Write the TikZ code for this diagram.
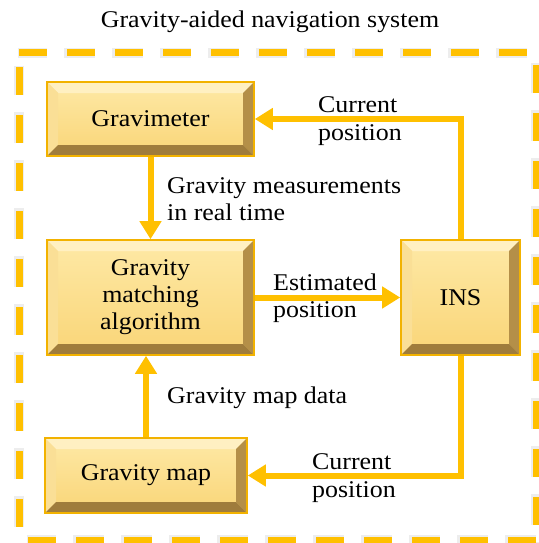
\documentclass[tikz,border=0pt]{standalone}
\usepackage{fontspec}
\setmainfont{Liberation Serif}[FakeStretch=1.08]
\usetikzlibrary{arrows.meta}
\definecolor{gold}{HTML}{FFC000}
\definecolor{boxborder}{HTML}{F2B200}
\definecolor{facetop}{HTML}{FEE9A6}
\definecolor{facebot}{HTML}{F9D577}
\definecolor{bevtop}{HTML}{FFF0C2}
\definecolor{bevleft}{HTML}{FADF96}
\definecolor{bevright}{HTML}{B48F48}
\definecolor{bevbot}{HTML}{9F7C3C}
\tikzset{
  bevelbox/.style={draw=boxborder, line width=1.6pt, top color=facetop, bottom color=facebot,
    inner sep=0pt, align=center, font=\fontsize{24}{27}\selectfont,
    path picture={
      \fill[bevtop] (path picture bounding box.north west) -- (path picture bounding box.north east)
        -- ([shift={(-11pt,-11pt)}]path picture bounding box.north east) -- ([shift={(11pt,-11pt)}]path picture bounding box.north west) -- cycle;
      \fill[bevleft] (path picture bounding box.north west) -- ([shift={(11pt,-11pt)}]path picture bounding box.north west)
        -- ([shift={(11pt,11pt)}]path picture bounding box.south west) -- (path picture bounding box.south west) -- cycle;
      \fill[bevright] (path picture bounding box.north east) -- ([shift={(-11pt,-11pt)}]path picture bounding box.north east)
        -- ([shift={(-11pt,11pt)}]path picture bounding box.south east) -- (path picture bounding box.south east) -- cycle;
      \fill[bevbot] (path picture bounding box.south west) -- ([shift={(11pt,11pt)}]path picture bounding box.south west)
        -- ([shift={(-11pt,11pt)}]path picture bounding box.south east) -- (path picture bounding box.south east) -- cycle;
    }},
  flow/.style={draw=gold, line width=6pt, -{Triangle[length=18pt,width=21pt]}},
  lbl/.style={anchor=west, align=left, inner sep=0pt, font=\fontsize{24}{27.5}\selectfont},
  frame/.style={draw=gold, line width=7pt, dash pattern=on 28pt off 20pt},
  frameshadow/.style={draw=black!7, line width=10pt, dash pattern=on 31pt off 17pt},
}
\begin{document}
\begin{tikzpicture}[x=1pt,y=-1pt]
\useasboundingbox (0,0) rectangle (538,543);
% frame
\draw[frameshadow, dash phase=1.5pt] (17.5,53) -- (540,53);
\draw[frameshadow, dash phase=1.5pt] (19,65.5) -- (19,545);
\draw[frameshadow, dash phase=1.5pt] (26.5,540) -- (540,540);
\draw[frameshadow, dash phase=1.5pt] (536,63.5) -- (536,545);
\draw[frame] (19,53) -- (540,53);
\draw[frame] (19,67) -- (19,545);
\draw[frame] (28,540) -- (540,540);
\draw[frame] (536,65) -- (536,545);
% title
\node[inner sep=0pt, font=\fontsize{24}{27}\selectfont] (title) at (270,22) {Gravity-aided navigation system};
% boxes
\node[bevelbox, minimum width=207pt, minimum height=74pt] (grav) at (150.5,119) {Gravimeter};
\node[bevelbox, minimum width=207pt, minimum height=115pt] (gma) at (150.5,297.5) {Gravity\\matching\\algorithm};
\node[bevelbox, minimum width=119pt, minimum height=115pt] (ins) at (460.5,297.5) {INS};
\node[bevelbox, minimum width=202pt, minimum height=75pt] (map) at (146,475.5) {Gravity map};
% connectors
\draw[flow] (grav.south) -- (gma.north);
\draw[flow] (gma.east) -- (ins.west);
\draw[flow] (ins.north) |- (grav.east);
\draw[flow] (ins.south) |- (map.east);
\draw[flow] (map.north) -- (map.north |- gma.south);
% labels
\node[lbl] (l1) at (318,121) {Current\\position};
\node[lbl] (l2) at (167,199) {Gravity measurements\\in real time};
\node[lbl] (l3) at (273,298) {Estimated\\position};
\node[lbl] (l4) at (167,398) {Gravity map data};
\node[lbl] (l5) at (312,478) {Current\\position};
\end{tikzpicture}
\end{document}
